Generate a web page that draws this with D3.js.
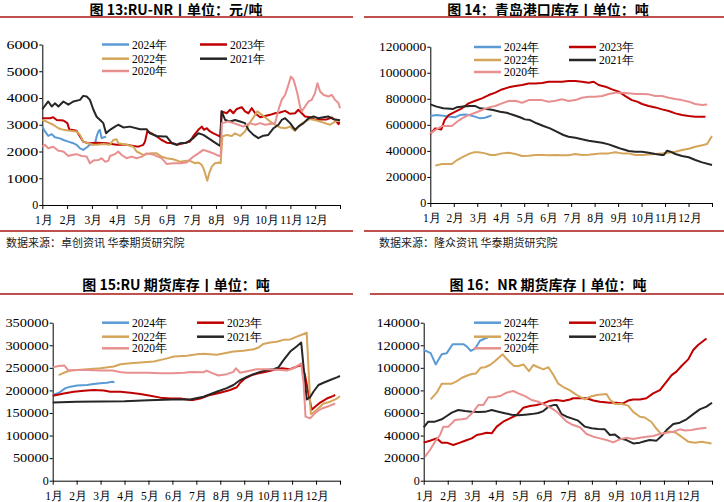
<!DOCTYPE html>
<html><head><meta charset="utf-8">
<script src="https://cdn.jsdelivr.net/npm/d3@7"></script>
<style>body{margin:0;background:#fff}</style>
</head><body>
<svg id="c" width="724" height="502"></svg>
<script>
const months = ["1月","2月","3月","4月","5月","6月","7月","8月","9月","10月","11月","12月"];
const years = ["2024年","2023年","2022年","2021年","2020年"];
const titles = ["图 13:RU-NR丨单位：元/吨","图 14：青岛港口库存丨单位：吨","图 15:RU 期货库存丨单位：吨","图 16：NR 期货库存丨单位：吨"];
const sources = ["数据来源：卓创资讯 华泰期货研究院","数据来源：隆众资讯 华泰期货研究院"];
const yMax = [6000, 1200000, 350000, 140000];
const yStep = [1000, 200000, 50000, 20000];

// ---- 图13 RU-NR  [month offset, value]
const ruNr2024 = [[0,2930],[0.11,2750],[0.24,2580],[0.38,2650],[0.51,2530],[0.71,2490],[0.85,2430],[1.05,2370],[1.25,2310],[1.38,2250],[1.52,2120],[1.65,2060],[1.79,2150],[1.92,2250],[2.12,2280],[2.19,2560],[2.26,2750],[2.32,2810],[2.39,2500],[2.49,2530],[2.57,2560]];
const ruNr2023 = [[0,3245],[0.31,3245],[0.44,3280],[0.58,3180],[0.85,3160],[1.01,3060],[1.09,2810],[1.18,2810],[1.38,2780],[1.52,2560],[1.65,2370],[1.85,2310],[2.19,2330],[2.59,2310],[2.99,2250],[3.4,2250],[3.67,2210],[3.87,2180],[4.07,2250],[4.14,2370],[4.23,2750],[4.41,2680],[4.61,2560],[4.81,2430],[5.01,2330],[5.28,2310],[5.42,2250],[5.69,2310],[5.95,2370],[6.09,2580],[6.29,2810],[6.43,2930],[6.52,2810],[6.63,2870],[6.76,2750],[6.9,2680],[7.03,2620],[7.17,2560],[7.23,3500],[7.43,3430],[7.57,3560],[7.7,3430],[7.84,3590],[8.04,3660],[8.17,3500],[8.31,3430],[8.44,3620],[8.58,3430],[8.78,3280],[8.98,3330],[9.18,3370],[9.38,3430],[9.58,3460],[9.79,3520],[9.99,3410],[10.19,3430],[10.32,3560],[10.46,3430],[10.59,3310],[10.8,3280],[11.0,3180],[11.2,3200],[11.47,3200],[11.67,3270],[11.8,3180],[11.94,3020],[11.98,3100]];
const ruNr2022 = [[0,3180],[0.17,3120],[0.44,3000],[0.65,2870],[0.85,2810],[1.12,2780],[1.38,2750],[1.52,2620],[1.65,2370],[1.85,2310],[2.06,2250],[2.19,2250],[2.46,2280],[2.73,2250],[2.86,2430],[2.99,2460],[3.06,2310],[3.4,2250],[3.67,2180],[3.8,2000],[4.07,1870],[4.34,1930],[4.61,1930],[4.81,1810],[5.01,1750],[5.28,1710],[5.55,1620],[5.82,1650],[5.95,1650],[6.16,1560],[6.29,1590],[6.43,1500],[6.52,1310],[6.6,1060],[6.65,910],[6.73,1190],[6.83,1435],[6.96,1560],[7.1,1590],[7.19,1560],[7.26,2560],[7.43,2620],[7.64,2580],[7.77,2680],[7.97,2580],[8.17,2750],[8.31,3000],[8.44,3180],[8.58,3370],[8.67,3500],[8.85,3370],[8.98,3280],[9.18,3120],[9.38,3000],[9.58,2900],[9.79,2870],[9.99,2930],[10.19,2770],[10.39,3000],[10.59,3120],[10.79,3210],[11.06,3160],[11.33,3080],[11.6,3000],[11.8,3120],[11.98,3160]];
const ruNr2021 = [[0,3580],[0.24,3870],[0.38,3680],[0.51,3800],[0.65,3680],[0.85,3870],[1.05,3750],[1.25,3870],[1.52,3930],[1.65,4080],[1.79,4055],[1.92,3930],[2.06,3560],[2.19,3300],[2.33,3180],[2.46,3060],[2.57,2680],[2.73,2810],[2.93,2930],[3.06,3000],[3.27,2900],[3.53,2930],[3.94,2830],[4.21,2830],[4.34,2680],[4.61,2580],[4.88,2560],[5.01,2560],[5.22,2310],[5.42,2250],[5.55,2310],[5.82,2330],[6.09,2500],[6.29,2680],[6.49,2620],[6.69,2500],[6.9,2370],[7.1,2250],[7.17,2210],[7.23,3500],[7.37,3180],[7.57,3120],[7.77,3180],[7.97,3120],[8.17,3060],[8.31,2810],[8.51,2620],[8.71,2500],[8.91,2590],[9.11,2620],[9.32,2870],[9.52,3000],[9.65,3180],[9.79,3245],[9.99,3060],[10.19,2810],[10.32,2930],[10.53,3060],[10.73,3245],[10.93,3310],[11.13,3245],[11.33,3280],[11.53,3310],[11.73,3210],[11.94,3180],[12.0,3160]];
const ruNr2020 = [[0,2180],[0.11,2250],[0.24,2120],[0.44,2180],[0.65,2030],[0.85,2000],[1.05,1830],[1.18,1870],[1.38,1900],[1.59,1830],[1.79,1810],[1.92,1560],[2.06,1660],[2.26,1680],[2.39,1750],[2.53,1620],[2.66,1650],[2.73,1830],[2.93,1900],[3.06,2000],[3.2,1870],[3.4,1750],[3.6,1810],[3.8,1750],[4.01,1810],[4.21,1930],[4.41,1900],[4.61,1830],[4.81,1750],[5.01,1535],[5.28,1560],[5.55,1560],[5.82,1590],[6.09,1810],[6.29,1930],[6.49,2060],[6.69,2000],[6.9,1930],[7.03,1870],[7.14,1830],[7.19,1870],[7.24,3060],[7.5,3120],[7.7,3060],[7.9,3000],[8.1,2930],[8.37,3060],[8.58,3000],[8.78,3060],[8.98,3000],[9.18,3030],[9.38,3060],[9.52,3560],[9.65,3930],[9.79,4120],[9.92,4490],[10.02,4800],[10.12,4700],[10.19,4490],[10.28,4180],[10.39,3680],[10.46,3500],[10.59,3680],[10.73,3870],[10.86,3930],[10.99,4180],[11.09,4550],[11.2,4240],[11.33,4120],[11.53,4055],[11.67,4120],[11.8,3930],[11.94,3810],[12.0,3620]];

// ---- 图14 青岛港口库存
const qd2024 = [[0,668000],[0.27,675000],[0.55,670000],[0.84,663000],[1.05,658000],[1.26,675000],[1.48,680000],[1.69,673000],[1.9,663000],[2.12,650000],[2.33,655000],[2.54,668000],[2.61,673000]];
const qd2023 = [[0,530000],[0.21,573000],[0.47,565000],[0.61,637000],[0.78,675000],[1.07,701000],[1.35,727000],[1.63,765000],[1.92,785000],[2.2,803000],[2.49,829000],[2.77,847000],[3.05,872000],[3.34,888000],[3.62,898000],[3.91,906000],[4.19,918000],[4.47,918000],[4.76,922000],[5.04,931000],[5.33,931000],[5.61,931000],[5.89,936000],[6.18,936000],[6.46,931000],[6.75,924000],[6.96,931000],[7.17,906000],[7.46,893000],[7.74,872000],[8.03,855000],[8.31,821000],[8.59,790000],[8.81,778000],[9.02,760000],[9.3,745000],[9.59,734000],[9.87,719000],[10.16,706000],[10.44,688000],[10.72,675000],[11.01,668000],[11.29,663000],[11.72,663000]];
const qd2022 = [[0.21,287000],[0.5,299000],[0.92,299000],[1.14,330000],[1.35,350000],[1.63,376000],[1.85,389000],[2.06,389000],[2.34,381000],[2.56,368000],[2.77,368000],[3.05,381000],[3.34,386000],[3.62,376000],[3.91,361000],[4.19,363000],[4.47,368000],[4.76,368000],[5.04,366000],[5.33,368000],[5.61,366000],[5.89,366000],[6.18,376000],[6.46,368000],[6.75,371000],[7.03,376000],[7.32,381000],[7.6,381000],[7.88,389000],[8.17,381000],[8.45,381000],[8.74,368000],[9.02,368000],[9.3,373000],[9.59,376000],[9.87,381000],[10.16,386000],[10.44,394000],[10.72,407000],[11.01,417000],[11.29,432000],[11.58,443000],[11.79,453000],[12.0,514000]];
const qd2021 = [[0,757000],[0.27,740000],[0.55,727000],[0.98,722000],[1.12,735000],[1.41,740000],[1.69,745000],[1.9,745000],[2.12,727000],[2.4,722000],[2.68,714000],[2.97,701000],[3.25,693000],[3.54,676000],[3.82,658000],[4.03,642000],[4.25,637000],[4.53,612000],[4.82,591000],[5.1,573000],[5.38,548000],[5.67,522000],[5.89,509000],[6.18,501000],[6.46,489000],[6.75,478000],[7.03,471000],[7.32,463000],[7.6,450000],[7.88,432000],[8.17,414000],[8.45,399000],[8.74,394000],[9.02,394000],[9.3,386000],[9.59,376000],[9.87,368000],[9.94,368000],[10.09,402000],[10.23,394000],[10.44,376000],[10.72,361000],[11.01,351000],[11.29,330000],[11.58,312000],[12.0,292000]];
const qd2020 = [[0,535000],[0.21,560000],[0.5,591000],[0.78,591000],[0.92,591000],[1.14,624000],[1.35,650000],[1.63,675000],[1.92,693000],[2.2,714000],[2.49,734000],[2.77,745000],[3.05,765000],[3.34,783000],[3.62,785000],[3.91,770000],[4.19,790000],[4.47,790000],[4.76,790000],[5.04,778000],[5.33,785000],[5.61,796000],[5.89,783000],[6.18,790000],[6.46,808000],[6.75,816000],[7.03,816000],[7.32,821000],[7.6,837000],[7.88,847000],[8.17,847000],[8.45,842000],[8.74,837000],[9.02,837000],[9.3,834000],[9.59,821000],[9.87,821000],[10.16,808000],[10.44,798000],[10.72,790000],[11.01,778000],[11.29,760000],[11.58,752000],[11.79,757000]];

// ---- 图15 RU期货库存
const ru2024 = [[0,190000],[0.18,193000],[0.32,197000],[0.53,205000],[0.74,208000],[1.02,211000],[1.43,212000],[1.71,214000],[1.99,216000],[2.27,217000],[2.48,219000],[2.58,218000]];
const ru2023 = [[0,188000],[0.46,193000],[0.88,197000],[1.3,199000],[1.71,201000],[2.13,200000],[2.41,197000],[2.83,197000],[3.24,195000],[3.66,192000],[4.08,188000],[4.5,184000],[4.92,182000],[5.33,182000],[5.75,179000],[5.9,179000],[6.16,182000],[6.58,190000],[6.99,195000],[7.41,201000],[7.69,207000],[7.83,217000],[8.04,227000],[8.32,234000],[8.6,238000],[8.87,241000],[9.22,245000],[9.57,249000],[9.92,247000],[10.2,253000],[10.41,256000],[10.54,234000],[10.68,193000],[10.82,157000],[10.96,164000],[11.17,173000],[11.45,182000],[11.73,188000],[11.8,190000]];
const ru2022 = [[0.25,234000],[0.46,239000],[0.74,244000],[1.02,245000],[1.43,247000],[1.99,249000],[2.55,253000],[2.83,258000],[3.24,260000],[3.66,262000],[4.22,264000],[4.78,271000],[5.06,275000],[5.61,277000],[6.03,280000],[6.3,281000],[6.85,279000],[7.13,282000],[7.55,286000],[7.97,288000],[8.39,291000],[8.6,295000],[8.8,303000],[9.08,306000],[9.36,308000],[9.64,312000],[9.92,313000],[10.2,319000],[10.48,325000],[10.61,328000],[10.78,148000],[10.89,151000],[11.03,157000],[11.17,164000],[11.31,171000],[11.59,175000],[11.87,182000],[12.0,187000]];
const ru2021 = [[0,173000],[1,175000],[2,175500],[3,176000],[4,178000],[5,180000],[5.74,180000],[6.3,186000],[6.85,197000],[7.27,205000],[7.55,212000],[7.83,223000],[8.11,230000],[8.39,236000],[8.66,241000],[8.94,245000],[9.22,247000],[9.43,251000],[9.64,267000],[9.92,286000],[10.2,298000],[10.38,306000],[10.61,180000],[10.75,185000],[10.89,197000],[11.1,212000],[11.31,217000],[11.59,223000],[11.87,229000],[12.0,232000]];
const ru2020 = [[0,251000],[0.24,254000],[0.49,255000],[0.66,244000],[1.0,245000],[1.42,245000],[2.0,244000],[2.5,244000],[2.8,241000],[3.09,239000],[3.5,239000],[4.0,239000],[4.5,238000],[5.0,238000],[5.5,239000],[5.74,241000],[6.3,240000],[6.43,244000],[6.64,239000],[6.92,233000],[7.27,236000],[7.55,241000],[7.65,249000],[7.83,239000],[8.18,243000],[8.53,247000],[8.94,247000],[9.36,246000],[9.78,244000],[10.06,249000],[10.27,256000],[10.38,260000],[10.48,216000],[10.56,142000],[10.75,138000],[10.96,150000],[11.24,160000],[11.52,165000],[11.8,171000]];

// ---- 图16 NR期货库存
const nr2024 = [[0,116000],[0.29,113000],[0.5,103000],[0.75,112000],[0.96,113000],[1.21,121000],[1.37,121000],[1.65,121000],[1.79,119000],[1.96,115000],[2.14,117000],[2.34,124000],[2.55,126000],[2.68,127000]];
const nr2023 = [[0,33700],[0.26,35400],[0.54,37500],[0.75,33700],[0.96,33700],[1.23,31600],[1.51,33700],[1.72,35400],[2.0,37500],[2.21,40500],[2.41,41400],[2.62,42500],[2.83,42000],[3.04,47900],[3.31,52300],[3.59,55200],[3.87,58200],[4.15,64700],[4.42,66200],[4.7,67000],[4.98,68500],[5.26,70900],[5.53,71500],[5.81,70600],[6.09,72000],[6.22,73000],[6.5,73000],[6.78,73000],[7.06,71000],[7.33,70000],[7.75,69000],[8.03,69000],[8.3,68500],[8.51,71000],[8.72,72000],[9.0,72000],[9.27,73000],[9.55,77400],[9.83,80300],[10.11,87700],[10.32,93600],[10.52,96600],[10.73,101600],[11.01,107500],[11.22,115800],[11.42,120200],[11.77,126000]];
const nr2022 = [[0.29,72000],[0.54,78000],[0.75,86000],[0.96,86000],[1.17,86000],[1.37,88000],[1.58,91000],[1.79,93000],[2.0,94500],[2.18,95000],[2.37,100000],[2.55,100500],[2.76,102500],[2.97,106000],[3.18,110000],[3.29,112000],[3.45,108000],[3.59,105000],[3.76,101600],[3.94,101600],[4.15,103000],[4.38,97000],[4.56,102500],[4.77,100500],[4.98,98700],[5.19,100500],[5.4,93600],[5.6,86000],[5.81,83000],[6.09,80000],[6.36,76000],[6.71,72000],[6.92,74400],[7.2,76000],[7.61,76800],[7.75,72000],[7.96,68000],[8.24,68000],[8.51,66500],[8.72,61000],[9.0,56700],[9.2,56000],[9.48,52000],[9.69,46000],[9.9,41000],[10.18,43500],[10.45,43000],[10.73,39000],[11.01,34600],[11.29,33700],[11.56,34500],[11.98,33000]];
const nr2021 = [[0,47300],[0.19,52300],[0.47,52300],[0.75,54400],[0.96,57300],[1.17,60300],[1.44,62600],[1.72,61700],[2.0,61100],[2.27,60800],[2.55,61000],[2.83,62600],[3.11,61100],[3.38,59700],[3.66,58500],[3.94,57900],[4.22,58500],[4.49,59000],[4.77,60000],[4.98,61700],[5.19,65600],[5.4,67000],[5.53,67000],[5.74,59000],[5.95,56700],[6.16,55200],[6.43,53200],[6.71,47900],[6.99,46400],[7.26,45800],[7.54,45500],[7.75,40500],[7.96,41000],[8.16,37500],[8.44,36000],[8.72,33000],[9.0,33700],[9.2,35000],[9.41,36000],[9.69,35500],[9.9,39600],[10.11,44900],[10.39,50200],[10.66,51400],[10.94,54400],[11.22,59000],[11.49,63200],[11.77,65600],[12.0,69100]];
const nr2020 = [[0.06,21300],[0.26,27200],[0.47,34600],[0.68,40500],[0.82,47900],[1.03,47900],[1.3,53800],[1.58,54400],[1.79,55200],[2.07,61100],[2.27,67000],[2.48,67000],[2.69,73900],[2.9,73900],[3.18,75000],[3.45,78000],[3.73,79500],[3.94,77400],[4.22,75000],[4.49,71500],[4.77,70000],[5.05,67000],[5.33,64100],[5.6,60000],[5.75,56700],[5.95,52300],[6.22,49300],[6.5,47300],[6.78,41400],[7.06,39000],[7.33,37500],[7.61,36000],[7.89,34000],[8.16,36600],[8.44,38100],[8.72,37000],[9.0,38100],[9.27,39000],[9.55,39600],[9.83,41400],[10.11,42500],[10.39,43400],[10.66,45500],[10.87,44500],[11.15,44900],[11.42,46100],[11.77,47000]];

const panelSeries = [
  [ruNr2024, ruNr2023, ruNr2022, ruNr2021, ruNr2020],
  [qd2024, qd2023, qd2022, qd2021, qd2020],
  [ru2024, ru2023, ru2022, ru2021, ru2020],
  [nr2024, nr2023, nr2022, nr2021, nr2020]
];

// ---- layout / style
const colors = ["#5b9bd5", "#c00000", "#d4a55a", "#262626", "#e8908f"];
const ruleColor = "#c0504d";
const layout = [
  {x0:42.3, x1:340, yT:44.5, yB:205, tx:176, ty:15, ruleY:17, rule:[0,353], bot:231, src:0, srcX:6,
   lg:{c1:102, c2:200, rows:[44.5,58.7,71]}, ls:2.9},
  {x0:430.3, x1:712, yT:46.7, yB:203, tx:548, ty:15, ruleY:17, rule:[364,724], bot:231, src:1, srcX:379,
   lg:{c1:474, c2:569, rows:[47,60,72]}, ls:1.13},
  {x0:52.7, x1:340, yT:322.7, yB:480.7, tx:176, ty:290, ruleY:294, rule:[0,353], bot:null,
   lg:{c1:102, c2:197, rows:[322.7,336.7,348.3]}, ls:1.7},
  {x0:423.7, x1:712, yT:322.7, yB:480.7, tx:548, ty:290, ruleY:294, rule:[370,724], bot:null,
   lg:{c1:474, c2:569, rows:[322.7,336.7,348.3]}, ls:1.7}
];
const serif = "'Liberation Serif','Times New Roman',serif";
const cjk = "'Noto Sans CJK SC','Noto Sans',sans-serif";

const svg = d3.select("#c");
svg.append("rect").attr("width",724).attr("height",502).attr("fill","#fff");

layout.forEach((L, p) => {
  const g = svg.append("g");
  // title
  g.append("text").attr("x", L.tx).attr("y", L.ty).attr("text-anchor","middle")
    .attr("font-family", cjk).attr("font-weight","bold").attr("font-size",14).attr("fill","#000")
    .text(titles[p]);
  g.append("line").attr("x1",L.rule[0]).attr("x2",L.rule[1]).attr("y1",L.ruleY).attr("y2",L.ruleY)
    .attr("stroke",ruleColor).attr("stroke-width",2);
  if (L.bot !== null) {
    g.append("line").attr("x1",L.rule[0]).attr("x2",L.rule[1]).attr("y1",L.bot).attr("y2",L.bot)
      .attr("stroke",ruleColor).attr("stroke-width",2);
    g.append("text").attr("x",L.srcX).attr("y",247).attr("font-family",cjk).attr("font-size",11)
      .attr("fill","#222").text(sources[L.src]);
  }
  const x = d3.scaleLinear().domain([0,12]).range([L.x0, L.x1]);
  const y = d3.scaleLinear().domain([0,yMax[p]]).range([L.yB, L.yT]);

  // y axis
  const ya = g.append("g").attr("transform",`translate(${L.x0},0)`)
    .call(d3.axisLeft(y).tickValues(d3.range(0, yMax[p]+1, yStep[p])).tickSize(3).tickSizeOuter(0).tickPadding(1)
      .tickFormat(d3.format("d")));
  ya.selectAll("text").attr("font-family",serif).attr("font-size",12).attr("fill","#000")
    .each(function(){ const n=this.textContent.length; if(n>1){ d3.select(this).attr("textLength", n*5.8+(n-1)*L.ls).attr("lengthAdjust","spacingAndGlyphs"); } });
  ya.selectAll("path,line").attr("stroke","#000");

  // x axis
  const xa = g.append("g").attr("transform",`translate(0,${L.yB})`)
    .call(d3.axisBottom(x).tickValues(d3.range(0,13)).tickSize(4).tickSizeOuter(0).tickPadding(7)
      .tickFormat(d => d < 12 ? months[d] : ""));
  xa.selectAll("text").attr("font-family",serif).attr("font-size",11.5).attr("fill","#000").attr("dx",1);
  xa.selectAll("path,line").attr("stroke","#000");

  // lines
  const line = d3.line().x(d => x(d[0])).y(d => y(d[1]));
  panelSeries[p].forEach((s, i) => {
    g.append("path").datum(s).attr("d", line).attr("fill","none")
      .attr("stroke", colors[i]).attr("stroke-width", 2).attr("stroke-linejoin","round");
  });

  // legend
  const pos = [[L.lg.c1,0],[L.lg.c2,0],[L.lg.c1,1],[L.lg.c2,1],[L.lg.c1,2]];
  years.forEach((yr, i) => {
    const lx = pos[i][0], ly = L.lg.rows[pos[i][1]];
    g.append("line").attr("x1",lx).attr("x2",lx+27).attr("y1",ly).attr("y2",ly)
      .attr("stroke",colors[i]).attr("stroke-width",2.5);
    g.append("text").attr("x",lx+30).attr("y",ly+4).attr("font-family",serif).attr("font-size",11.5)
      .attr("fill","#000").text(yr);
  });
});
</script>
</body></html>
